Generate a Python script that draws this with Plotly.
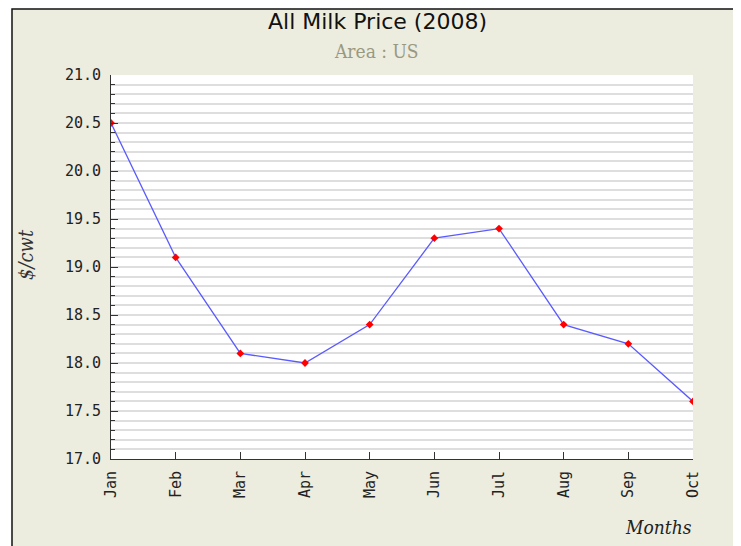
import plotly.graph_objects as go

months = ["Jan", "Feb", "Mar", "Apr", "May", "Jun", "Jul", "Aug", "Sep", "Oct"]
price = [20.5, 19.1, 18.1, 18.0, 18.4, 19.3, 19.4, 18.4, 18.2, 17.6]
y_ticks = [17.0, 17.5, 18.0, 18.5, 19.0, 19.5, 20.0, 20.5, 21.0]
y_tick_labels = ["17.0", "17.5", "18.0", "18.5", "19.0", "19.5", "20.0", "20.5", "21.0"]

OFF = 8  # page body margin
W, H = 741 - OFF, 546 - OFF
L, R, T, B = 103, 48, 67, 87
pw, ph = W - L - R, H - T - B

def px_x(p):
    return (p - OFF - L) / pw

def px_y(p):
    return (H - B - (p - OFF)) / ph

fig = go.Figure()
fig.add_trace(go.Scatter(
    x=months, y=price, mode="lines+markers",
    line=dict(color="#5A5AFF", width=1.3),
    marker=dict(symbol="diamond", color="#FF0000", size=6),
    hoverinfo="x+y",
))

mono = "DejaVu Sans Mono"
serif = "DejaVu Serif Condensed, DejaVu Serif"
fig.update_layout(
    width=W, height=H,
    margin=dict(l=L, r=R, t=T, b=B),
    paper_bgcolor="white",
    plot_bgcolor="rgba(0,0,0,0)",
    showlegend=False,
    xaxis=dict(
        type="category", range=[0, len(months) - 1],
        showgrid=False, zeroline=False,
        showline=True, linecolor="#333333", linewidth=1,
        ticks="inside", ticklen=7, tickcolor="#333333",
        tickangle=-90, tickfont=dict(family=mono, size=15, color="#222222"),
        ticklabelstandoff=5,
    ),
    yaxis=dict(
        range=[17, 21],
        tickvals=y_ticks, ticktext=y_tick_labels,
        showgrid=True, gridcolor="#DEDEDE", gridwidth=1.5,
        zeroline=False,
        showline=True, linecolor="#333333", linewidth=1,
        ticks="inside", ticklen=7, tickcolor="#333333",
        tickfont=dict(family=mono, size=15, color="#222222"),
        ticklabelstandoff=6,
        minor=dict(dtick=0.1, tick0=17, showgrid=True, gridcolor="#DEDEDE",
                   gridwidth=1.5, ticks="inside", ticklen=4, tickcolor="#333333"),
    ),
    shapes=[
        dict(type="rect", xref="paper", yref="paper", layer="below",
             x0=px_x(12), x1=px_x(736), y0=px_y(556), y1=px_y(9),
             fillcolor="#ECECDF", line=dict(color="#111111", width=1.5)),
        dict(type="rect", xref="paper", yref="paper", layer="below",
             x0=0, x1=1, y0=0, y1=1,
             fillcolor="white", line=dict(width=0)),
    ],
    annotations=[
        dict(text="All Milk Price (2008)", xref="paper", yref="paper",
             x=px_x(377), y=px_y(21), showarrow=False, xanchor="center", yanchor="middle",
             font=dict(family="DejaVu Sans", size=22, color="#111111")),
        dict(text="Area : US", xref="paper", yref="paper",
             x=px_x(376), y=px_y(51), showarrow=False, xanchor="center", yanchor="middle",
             font=dict(family=serif, size=19, color="#99997F")),
        dict(text="<i>$/cwt</i>", xref="paper", yref="paper",
             x=px_x(26), y=px_y(255), showarrow=False, xanchor="center", yanchor="middle",
             textangle=-90,
             font=dict(family=serif, size=20, color="#333333")),
        dict(text="<i>Months</i>", xref="paper", yref="paper",
             x=px_x(694), y=px_y(527), showarrow=False, xanchor="right", yanchor="middle",
             font=dict(family=serif, size=19, color="#222222")),
    ],
)

fig.write_html("out.html")
